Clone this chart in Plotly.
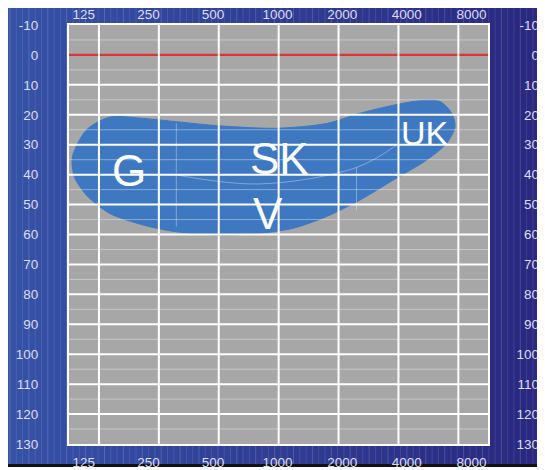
import numpy as np
import plotly.graph_objects as go

# ---------------- data ----------------
freq_ticks = [125, 250, 500, 1000, 2000, 4000, 8000]
freq_labels = ["125", "250", "500", "1000", "2000", "4000", "8000"]
db_ticks = list(range(-10, 131, 10))
db_labels = [str(v) for v in db_ticks]
db_major_lines = list(range(10, 121, 10))
db_minor_lines = list(range(-5, 130, 10))

# speech banana outline (Hz, dB HL)
blob_freq = [92, 94, 108, 141, 208, 306, 506, 804, 1184, 1742, 2562, 3769, 5548,
             6994, 7700, 7413, 6472, 5134, 3769, 2562, 1742, 976, 506, 306, 208,
             141, 108, 92]
blob_db = [34.0, 40.7, 46.8, 52.9, 56.8, 59.1, 60.2, 59.6, 57.9, 54.0, 48.5, 41.8, 35.1,
           29.5, 24.0, 19.5, 15.6, 15.3, 16.8, 19.5, 22.9, 24.5, 23.7, 22.3, 21.2,
           20.8, 25.1, 34.0]

# faint inner contour
curve_freq = [306, 804, 2462, 3920]
curve_db = [40.1, 43.1, 37.6, 30.1]
inner_v_freq = [306, 2462]
inner_v_top = [22.8, 37.6]
inner_v_bottom = [57.4, 51.8]

# region labels
region_text = ["G", "SK", "V", "UK"]
region_freq = [177, 1014, 883, 5428]
region_db = [38.5, 34.6, 52.9, 26.2]

# ---------------- geometry helpers ----------------
# the page body has an 8px margin, so the figure starts at (8, 8) in the window
OFF = 8
WIN_W, WIN_H = 545, 470
W, H = WIN_W - OFF, WIN_H - OFF
def px(x):
    return (x - OFF) / W
def py(y):
    return 1 - (y - OFF) / H

PL, PR, PT, PB = 69.0, 488.3, 25.0, 444.0
FONT = "Liberation Sans, Arial, sans-serif"
TICKCOL = "#dcdcee"

fig = go.Figure()

fig.add_trace(go.Scatter(
    x=blob_freq, y=blob_db, mode="lines", fill="toself",
    fillcolor="#3e78c1", line=dict(color="#3e78c1", width=1, shape="spline", smoothing=0.8),
    hoverinfo="skip", showlegend=False))

fx, fy = list(curve_freq), list(curve_db)
for f, t, b in zip(inner_v_freq, inner_v_top, inner_v_bottom):
    fx += [None, f, f]
    fy += [None, t, b]
fig.add_trace(go.Scatter(x=fx, y=fy, mode="lines",
                         line=dict(color="rgba(255,255,255,0.35)", width=1, shape="spline"),
                         hoverinfo="skip", showlegend=False))

fmin, fmax = 125 / np.sqrt(2), 8000 * np.sqrt(2)
fig.add_trace(go.Scatter(x=[fmin, fmax], y=[0, 0], mode="lines",
                         line=dict(color="#e03434", width=2.2),
                         hoverinfo="skip", showlegend=False))

mx, my = [], []
for d in db_minor_lines:
    mx += [fmin, fmax, None]
    my += [d, d, None]
fig.add_trace(go.Scatter(x=mx, y=my, mode="lines",
                         line=dict(color="rgba(255,255,255,0.38)", width=1),
                         hoverinfo="skip", showlegend=False))

hx, hy = [], []
for d in db_major_lines:
    hx += [fmin, fmax, None]
    hy += [d, d, None]
fig.add_trace(go.Scatter(x=hx, y=hy, mode="lines",
                         line=dict(color="white", width=2),
                         hoverinfo="skip", showlegend=False))

vx, vy = [], []
for f in freq_ticks:
    vx += [f, f, None]
    vy += [-10, 130, None]
fig.add_trace(go.Scatter(x=vx, y=vy, mode="lines",
                         line=dict(color="white", width=2),
                         hoverinfo="skip", showlegend=False))

fig.add_trace(go.Scatter(x=[1000], y=[50], xaxis="x2", yaxis="y", mode="markers",
                         marker=dict(opacity=0), hoverinfo="skip", showlegend=False))
fig.add_trace(go.Scatter(x=[1000], y=[50], xaxis="x3", yaxis="y", mode="markers",
                         marker=dict(opacity=0), hoverinfo="skip", showlegend=False))
fig.add_trace(go.Scatter(x=[1000], y=[50], xaxis="x", yaxis="y2", mode="markers",
                         marker=dict(opacity=0), hoverinfo="skip", showlegend=False))

for t, f, d in zip(region_text, region_freq, region_db):
    fig.add_annotation(x=np.log10(f), y=d, xref="x", yref="y", text=t, showarrow=False,
                       font=dict(family=FONT, size=34 if t == "UK" else 44, color="white"),
                       xanchor="center", yanchor="middle")

shapes = []
c0 = np.array([54, 83, 168])
c1 = np.array([42, 40, 128])
n = 109
for i in range(n):
    t = i / (n - 1)
    c = (c0 * (1 - t) + c1 * t).astype(int)
    shapes.append(dict(type="rect", xref="paper", yref="paper", layer="below",
                       x0=px(i * WIN_W / n), x1=px((i + 1) * WIN_W / n + 0.6),
                       y0=py(WIN_H), y1=py(0),
                       line=dict(width=0), fillcolor=f"rgb({c[0]},{c[1]},{c[2]})"))
for k, xs in enumerate(np.arange(10, WIN_W, 6.3)):
    a = 0.10 if k % 3 else 0.16
    shapes.append(dict(type="line", xref="paper", yref="paper", layer="below",
                       x0=px(xs), x1=px(xs), y0=py(464), y1=py(8),
                       line=dict(color=f"rgba(255,255,255,{a})", width=1)))
shapes.append(dict(type="rect", xref="paper", yref="paper", layer="below",
                   x0=px(PL), x1=px(PR), y0=py(PB), y1=py(PT),
                   line=dict(width=0), fillcolor="#a7a7a7"))
shapes.append(dict(type="rect", xref="paper", yref="paper", layer="below",
                   x0=px(0), x1=px(WIN_W), y0=py(467), y1=py(464),
                   line=dict(width=0), fillcolor="#111111"))
shapes.append(dict(type="rect", xref="paper", yref="paper", layer="below",
                   x0=px(0), x1=px(WIN_W), y0=py(WIN_H + 5), y1=py(467),
                   line=dict(width=0), fillcolor="white"))

tickfont = dict(family=FONT, size=13.5, color=TICKCOL)

fig.update_layout(
    width=W, height=H, autosize=False,
    margin=dict(l=0, r=0, t=0, b=0, pad=0, autoexpand=False),
    paper_bgcolor="white", plot_bgcolor="rgba(0,0,0,0)",
    shapes=shapes,
    xaxis=dict(type="log", range=[np.log10(fmin), np.log10(fmax)],
               domain=[px(PL), px(PR)], anchor="y", automargin=False,
               showgrid=False, zeroline=False, showticklabels=False, ticks="",
               showline=True, mirror=True, linecolor="white", linewidth=2),
    yaxis=dict(range=[130, -10], domain=[py(PB), py(PT)], anchor="x", automargin=False,
               tickvals=db_ticks, ticktext=db_labels, ticks="outside", ticklen=26,
               tickcolor="rgba(0,0,0,0)",
               tickfont=tickfont, showgrid=False, zeroline=False,
               showline=True, mirror=True, linecolor="white", linewidth=2),
    yaxis2=dict(range=[130, -10], overlaying="y", anchor="free", position=px(539),
                side="left", tickvals=db_ticks, ticktext=db_labels, ticks="",
                tickfont=tickfont, automargin=False,
                showgrid=False, zeroline=False, showline=False),
    xaxis2=dict(type="log", range=[np.log10(62.5), np.log10(16000)],
                domain=[px(19.2), px(536.0)], anchor="free", position=py(PT), side="top",
                tickvals=freq_ticks, ticktext=freq_labels, ticks="outside", ticklen=1,
                tickcolor="rgba(0,0,0,0)", tickfont=tickfont, automargin=False,
                showgrid=False, zeroline=False, showline=False),
    xaxis3=dict(type="log", range=[np.log10(62.5), np.log10(16000)],
                domain=[px(19.2), px(536.0)], anchor="free", position=py(PB), side="bottom",
                tickvals=freq_ticks, ticktext=freq_labels, ticks="outside", ticklen=6,
                tickcolor="rgba(0,0,0,0)", tickfont=tickfont, automargin=False,
                showgrid=False, zeroline=False, showline=False),
)

fig.write_html("out.html")
